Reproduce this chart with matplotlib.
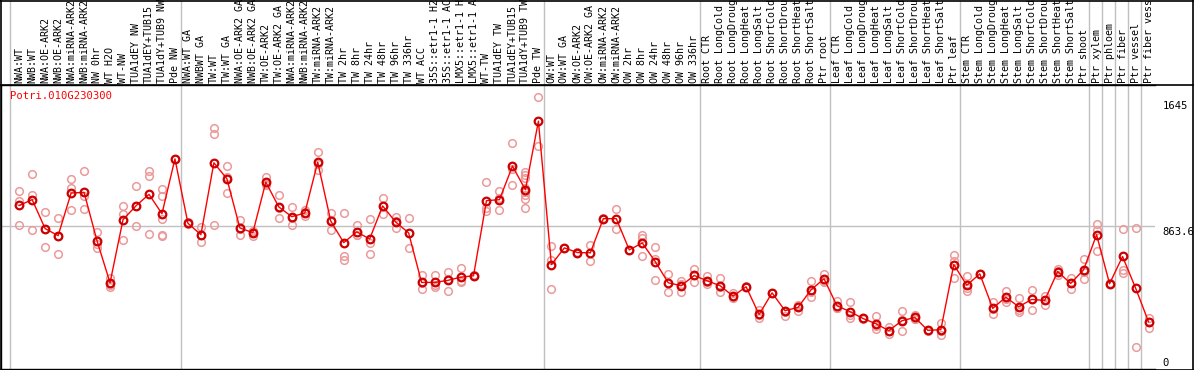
import matplotlib
matplotlib.use("Agg")
import matplotlib.pyplot as plt
import matplotlib.transforms as mtransforms
from matplotlib.lines import Line2D

gene = "Potri.010G230300"

samples = [
    "NWA:WT", "NWB:WT", "NWA:OE-ARK2", "NWB:OE-ARK2", "NWA:miRNA-ARK2", "NWB:miRNA-ARK2",
    "NW 0hr", "WT H2O", "WT-NW", "TUA1dEY NW", "TUA1dEY+TUB15", "TUA1dY+TUB9 NW", "Pde NW",
    "NWA:WT GA", "NWBWT GA", "TW:WT", "TW:WT GA", "NWA:OE-ARK2 GA", "NWB:OE-ARK2 GA",
    "TW:OE-ARK2", "TW:OE-ARK2 GA", "NWA:miRNA-ARK2", "NWB:miRNA-ARK2", "TW:miRNA-ARK2",
    "TW:miRNA-ARK2", "TW 2hr", "TW 8hr", "TW 24hr", "TW 48hr", "TW 96hr", "TW 336hr",
    "WT ACC", "35S::etr1-1 H2", "35S::etr1-1 AC", "LMX5::etr1-1 H", "LMX5::etr1-1 A",
    "WT-TW", "TUA1dEY TW", "TUA1dEY+TUB15", "TUA1dY+TUB9 TW", "Pde TW",
    "OW:WT", "OW:WT GA", "OW:OE-ARK2", "OW:OE-ARK2 GA", "OW:miRNA-ARK2", "OW:miRNA-ARK2",
    "OW 2hr", "OW 8hr", "OW 24hr", "OW 48hr", "OW 96hr", "OW 336hr",
    "Root CTR", "Root LongCold", "Root LongDroug", "Root LongHeat", "Root LongSalt",
    "Root ShortCold", "Root ShortDrou", "Root ShortHeat", "Root ShortSalt", "Ptr root",
    "Leaf CTR", "Leaf LongCold", "Leaf LongDroug", "Leaf LongHeat", "Leaf LongSalt",
    "Leaf ShortCold", "Leaf ShortDrou", "Leaf ShortHeat", "Leaf ShortSalt", "Ptr leaf",
    "Stem CTR", "Stem LongCold", "Stem LongDroug", "Stem LongHeat", "Stem LongSalt",
    "Stem ShortCold", "Stem ShortDrou", "Stem ShortHeat", "Stem ShortSalt", "Ptr shoot",
    "Ptr xylem", "Ptr phloem", "Ptr fiber", "Ptr vessel", "Ptr fiber vess",
]

means = [
    990, 1025, 850, 807, 1065, 1069, 775, 522, 904, 988, 1057, 940, 1272,
    882, 813, 1248, 1152, 854, 825, 1131, 981, 922, 944, 1252, 896,
    765, 830, 787, 987, 890, 824, 524, 524, 536, 556, 564,
    1019, 1025, 1228, 1085, 1500,
    632, 733, 705, 703, 910, 910, 721, 763, 650, 522, 504, 566,
    534, 504, 441, 498, 330, 461, 353, 373, 479, 546,
    383, 347, 306, 274, 232, 292, 312, 234, 238, 632,
    507, 576, 367, 435, 377, 421, 415, 590, 518, 600,
    813, 516, 681, 491, 286,
]

replicates = [
    [1077, 1014, 872], [1180, 1055, 842], [950, 850, 739], [914, 807, 699],
    [1152, 1095, 964], [1200, 1045, 970], [830, 759, 733], [552, 507, 498],
    [988, 938, 783], [1107, 988, 866], [1196, 1168, 818], [1091, 1047, 910, 813, 807],
    [1272], [885, 875, 888], [860, 810, 769], [1458, 1423, 870],
    [1228, 1161, 1067], [904, 849, 809], [807, 834, 834], [1162, 1120, 1111],
    [1055, 974, 914], [982, 914, 870], [960, 948, 924], [1313, 1241, 1202],
    [946, 900, 842], [944, 682, 658], [870, 811, 809], [910, 763, 694],
    [1037, 984, 940], [920, 896, 854], [916, 823, 733], [568, 521, 483],
    [568, 509, 495], [590, 545, 473], [614, 530, 524], [560, 566, 566],
    [1131, 975, 958], [1075, 1036, 964], [1365, 1208, 1111],
    [1192, 1176, 1156, 1095, 1071, 1051, 1027, 975], [1645, 1349],
    [745, 658, 487], [733, 731, 735], [705, 703, 707], [753, 655],
    [910, 908, 912], [970, 850], [721, 719, 723], [813, 793, 685],
    [739, 668, 540], [572, 467], [531, 467, 514], [608, 566, 524],
    [560, 526, 516], [548, 497, 467], [463, 433, 427], [498, 496, 500],
    [356, 328, 306], [461, 459, 463], [353, 342, 322], [386, 383, 350],
    [531, 469, 437], [578, 532, 528], [411, 371, 367], [403, 328, 310],
    [310, 306, 302], [320, 260, 242], [255, 232, 210], [350, 294, 232],
    [326, 305, 305], [236, 234, 232], [276, 233, 205], [693, 651, 552],
    [560, 488, 473], [576, 574, 578], [407, 364, 330], [475, 425, 405],
    [427, 357, 347], [481, 426, 356], [443, 416, 386], [608, 594, 568],
    [552, 519, 483], [668, 590, 542], [880, 844, 715], [516, 514, 518],
    [850, 598, 582], [854, 135], [310, 286, 250],
]

# last sample index of each group (separators drawn after these)
group_ends = [12, 40, 52, 62, 72, 82, 83, 84, 85, 86]
y_ticks = [0, 863.6, 1645]

mono = "DejaVu Sans Mono"
grey = "#c0c0c0"
W, H = 1194, 370
ax_l, ax_r, ax_top, ax_bot = 1, 1155, 85, 369

fig = plt.figure(figsize=(W / 100, H / 100), dpi=100)
ax = fig.add_axes([ax_l / W, (H - ax_bot) / H, (ax_r - ax_l) / W, (ax_bot - ax_top) / H])

x = list(range(len(samples)))
ax.set_xlim(-1.4, 87.5)
ax.set_ylim(0, 1719)

# separators through the plot and the label band
up = 1 + (ax_top - 1) / (ax_bot - ax_top)
for b in [-0.7] + [e + 0.45 for e in group_ends]:
    ax.axvline(b, ymin=0, ymax=up, color=grey, lw=1, clip_on=False, zorder=1)
ax.axhline(863.6, color=grey, lw=1, zorder=1)

rx, ry = [], []
for i, reps in enumerate(replicates):
    for v in reps:
        rx.append(i)
        ry.append(v)
ax.plot(rx, ry, ls="none", marker="o", ms=5.5, mfc="none", mec="#eb9a9a", mew=1.1, zorder=2)
ax.plot(x, means, color="red", lw=1, marker="o", ms=5.5, mfc="none", mec="#cc0000",
        mew=1.6, zorder=3)

ax.text(9 / (ax_r - ax_l), 1 - 6 / (ax_bot - ax_top), gene, transform=ax.transAxes,
        color="red", family=mono, fontsize=7.6, va="top", ha="left")

# sample names on top
ax.set_xticks(x)
ax.set_xticklabels(samples, rotation=90, family=mono, fontsize=7.2)
ax.tick_params(axis="x", top=True, labeltop=True, bottom=False, labelbottom=False,
               length=0, pad=1.5)

# value labels on the right
ax.yaxis.tick_right()
ax.set_yticks(y_ticks)
ax.set_yticklabels(["0", "863.6", "1645"], family=mono, fontsize=7.6)
ax.tick_params(axis="y", length=0, pad=5.5)
shifts = [1, -1, -4]
for lbl, va, dy in zip(ax.get_yticklabels(), ["bottom", "top", "top"], shifts):
    lbl.set_va(va)
    lbl.set_transform(lbl.get_transform() +
                      mtransforms.ScaledTranslation(0, dy / 100, fig.dpi_scale_trans))

for side in ["left", "top", "bottom"]:
    ax.spines[side].set_color("black")
    ax.spines[side].set_linewidth(1)
ax.spines["right"].set_visible(False)

# outer frame and the line under the label band
fr = dict(color="black", lw=1.2, transform=fig.transFigure)
fig.add_artist(Line2D([0, 1], [1 - 0.5 / H, 1 - 0.5 / H], **fr))
fig.add_artist(Line2D([0, 1], [0.5 / H, 0.5 / H], **fr))
fig.add_artist(Line2D([1 - 0.8 / W, 1 - 0.8 / W], [0, 1], **fr))
fig.add_artist(Line2D([1.2 / W, 1.2 / W], [0, 1], **fr))
fig.add_artist(Line2D([0, 1], [1 - ax_top / H, 1 - ax_top / H], **fr))

fig.savefig("out.png", dpi=100)
